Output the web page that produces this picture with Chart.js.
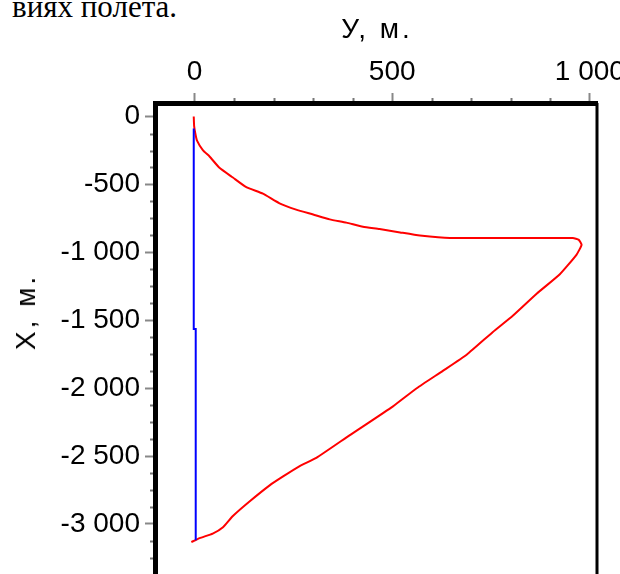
<!DOCTYPE html>
<html>
<head>
<meta charset="utf-8">
<script src="https://cdn.jsdelivr.net/npm/chart.js@4.4.0/dist/chart.umd.min.js"></script>
<style>
    html, body { margin: 0; padding: 0; background: #fff; overflow: hidden; width: 620px; height: 574px; }
    #wrap { position: absolute; left: 0; top: 0; width: 700px; height: 600px; }
    .note { position: absolute; left: 12px; top: -9px; font: 31px/31px "Liberation Serif", serif; color: #000; white-space: nowrap; }
    .ttl { position: absolute; font: 28px/28px "Liberation Sans", sans-serif; letter-spacing: 3px; color: #000; white-space: nowrap; }
    #tx { left: 377px; top: 15px; transform: translateX(-50%); }
    #ty { left: 26px; top: 312px; transform: translate(-50%, -50%) rotate(-90deg); }
</style>
</head>
<body>
<div class="note">виях полета.</div>
<div id="wrap"><canvas id="chart" width="700" height="600"></canvas></div>
<div class="ttl" id="tx">У, м.</div>
<div class="ttl" id="ty">Х, м.</div>
<script>
    // ── Data (Y = horizontal, X = vertical, metres) ──────────────────────────
    const redY = [-2, -1, 2, 6, 21, 38, 63, 97, 131, 173, 215, 257, 300, 342, 384, 426, 468, 520, 570, 646,
        957, 972, 979, 966, 924, 866, 805, 754, 689, 628, 562, 502, 392, 308, 266, 223, 190, 139, 97, 72, 46, 13, -8];
    const redX = [0, -70, -125, -175, -247, -294, -377, -449, -520, -568, -639, -685, -721, -757, -781, -812, -828, -853, -876, -895,
        -895, -908, -945, -1018, -1161, -1303, -1467, -1588, -1752, -1873, -2001, -2134, -2348, -2514, -2574, -2652, -2716, -2835, -2942, -3025, -3072, -3105, -3134];

    const blueY = [-2, -2, 3, 3];
    const blueX = [-88, -1565, -1565, -3120];

    const xTicks = [0, 500, 1000];
    const xTickLabels = ['0', '500', '1 000'];
    const xMinor = [100, 200, 300, 400, 600, 700, 800, 900];

    const yTicks = [0, -500, -1000, -1500, -2000, -2500, -3000];
    const yTickLabels = ['0', '-500', '-1 000', '-1 500', '-2 000', '-2 500', '-3 000'];
    const yMinor = [-125, -250, -375, -625, -750, -875, -1125, -1250, -1375, -1625, -1750, -1875,
        -2125, -2250, -2375, -2625, -2750, -2875, -3125, -3250, -3375];

    const toPoints = (xs, ys) => xs.map((v, i) => ({ x: v, y: ys[i] }));
    const FONT = { family: '"Liberation Sans", Arial, sans-serif', size: 28 };

    // short minor ticks + thin right frame line
    const minorTicks = {
        id: 'minorTicks',
        afterDraw(chart) {
            const { ctx, chartArea: a, scales: { x, y } } = chart;
            ctx.save();
            ctx.strokeStyle = '#777';
            ctx.lineWidth = 2;
            ctx.beginPath();
            xMinor.forEach(v => {
                const px = Math.round(x.getPixelForValue(v)) + 0.5;
                ctx.moveTo(px, a.top - 2);
                ctx.lineTo(px, a.top - 5);
            });
            yMinor.forEach(v => {
                const py = Math.round(y.getPixelForValue(v)) + 0.5;
                ctx.moveTo(a.left - 2, py);
                ctx.lineTo(a.left - 5, py);
            });
            ctx.stroke();
            ctx.strokeStyle = '#000';
            ctx.lineWidth = 3;
            ctx.beginPath();
            ctx.moveTo(a.right, a.top);
            ctx.lineTo(a.right, a.bottom);
            ctx.stroke();
            ctx.restore();
        },
    };

    new Chart(document.getElementById('chart'), {
        type: 'scatter',
        data: {
            datasets: [
                {
                    label: 'blue',
                    data: toPoints(blueY, blueX),
                    showLine: true,
                    borderColor: '#0000ff',
                    borderWidth: 2,
                    pointRadius: 0,
                },
                {
                    label: 'red',
                    data: toPoints(redY, redX),
                    showLine: true,
                    borderColor: '#ff0000',
                    borderWidth: 2,
                    pointRadius: 0,
                    tension: 0.15,
                },
            ],
        },
        options: {
            responsive: false,
            animation: false,
            layout: { padding: { left: 0, top: 0, right: 103, bottom: 6 } },
            plugins: { legend: { display: false }, tooltip: { enabled: false } },
            scales: {
                x: {
                    type: 'linear',
                    position: 'top',
                    min: -100,
                    max: 1018,
                    afterBuildTicks: s => { s.ticks = xTicks.map(v => ({ value: v })); },
                    afterFit: s => { s.height = 103; },
                    ticks: {
                        callback: v => xTickLabels[xTicks.indexOf(v)],
                        font: FONT,
                        color: '#000',
                        padding: 4,
                        maxRotation: 0,
                        autoSkip: false,
                    },
                    grid: { drawOnChartArea: false, tickLength: 10, tickColor: '#888', tickWidth: 2 },
                    border: { display: true, color: '#000', width: 5 },
                },
                y: {
                    type: 'linear',
                    position: 'left',
                    min: -3400,
                    max: 100,
                    afterBuildTicks: s => { s.ticks = yTicks.map(v => ({ value: v })); },
                    afterFit: s => { s.width = 155; },
                    ticks: {
                        callback: v => yTickLabels[yTicks.indexOf(v)],
                        font: FONT,
                        color: '#000',
                        padding: 5,
                        autoSkip: false,
                    },
                    grid: { drawOnChartArea: false, tickLength: 10, tickColor: '#888', tickWidth: 2 },
                    border: { display: true, color: '#000', width: 5 },
                },
            },
        },
        plugins: [minorTicks],
    });
</script>
</body>
</html>
